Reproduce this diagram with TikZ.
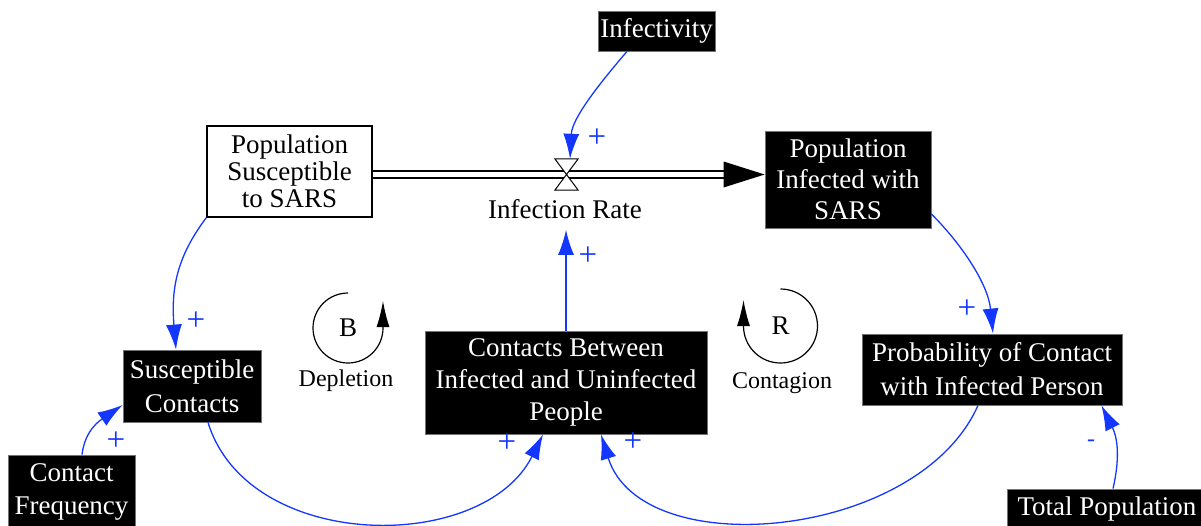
\documentclass[tikz,border=0pt]{standalone}
\usepackage{fontspec}
\setmainfont{Liberation Serif}
\usetikzlibrary{arrows.meta,calc}
\definecolor{linkblue}{RGB}{20,55,255}

\begin{document}
\begin{tikzpicture}[x=1pt,y=-1pt,
  darkbox/.style={fill=black, draw=black!55, line width=0.8pt, text=white,
    font=\fontsize{27}{32}\selectfont, align=center, inner sep=0pt},
  lightbox/.style={fill=white, draw=black, line width=1.6pt,
    font=\fontsize{27}{27}\selectfont, align=center, inner sep=0pt},
  link/.style={draw=linkblue, line width=1.3pt, -{Latex[length=25pt,width=16pt]}},
  polarity/.style={text=linkblue, font=\fontsize{33}{33}\selectfont, inner sep=0pt},
  loopmark/.style={draw=black, line width=1.2pt, -{Latex[length=26pt,width=13pt]}},
  looptext/.style={font=\fontsize{24}{24}\selectfont, inner sep=0pt},
  loopletter/.style={font=\fontsize{27}{27}\selectfont, inner sep=0pt},
  pipe/.style={draw=black, double=white, double distance=5.5pt, line width=1.5pt}
]
\useasboundingbox (0,0) rectangle (1201,525);
\clip (0,0) rectangle (1201,525);

% stocks, rate and auxiliaries
\node[lightbox, minimum width=165, minimum height=91] (pss) at (289.5,171.5)
  {Population\\Susceptible\\to SARS};
\node[darkbox, minimum width=166, minimum height=97, font=\fontsize{27}{31}\selectfont] (pis) at (848,179.5)
  {Population\\Infected with\\SARS};
\node[darkbox, minimum width=117, minimum height=40] (inf) at (656.5,31) {Infectivity};
\node[darkbox, minimum width=138, minimum height=72, font=\fontsize{27}{34}\selectfont] (sc) at (192,386)
  {Susceptible\\Contacts};
\node[darkbox, minimum width=127, minimum height=74, font=\fontsize{27}{33}\selectfont] (cf) at (71.5,492)
  {Contact\\Frequency};
\node[darkbox, minimum width=282, minimum height=103] (cbi) at (566,382.5)
  {Contacts Between\\Infected and Uninfected\\People};
\node[darkbox, minimum width=260, minimum height=71, font=\fontsize{27}{34}\selectfont] (pc) at (992,369.5)
  {Probability of Contact\\with Infected Person};
\node[darkbox, minimum width=200, minimum height=40] (tp) at (1107,509) {Total Population};

% flow pipe with valve
\node[minimum width=23, minimum height=31, inner sep=0pt] (valve) at (566.5,174.5) {};
\node[font=\fontsize{27}{27}\selectfont, inner sep=0pt] (ratelabel) at (565,209) {Infection Rate};
\draw[pipe] (pss.east |- valve.center) -- ($(pis.west |- valve.center)+(-38,0)$);
\fill[black] (pis.west |- valve.center) -- ++(-41,-13) -- ++(0,26) -- cycle;
\draw[fill=white, line width=1pt] (valve.north west) -- (valve.north east)
  -- (valve.south west) -- (valve.south east) -- cycle;

% causal links
\draw[link] ($(inf.south)+(-29.5,0)$) .. controls +(-30,35) and +(2,-40) .. ($(valve.north)+(3.5,0)$);
\draw[link] (cbi.north) -- ($(cbi.north |- ratelabel.south)+(0,11)$);
\draw[link] (pss.south west) .. controls +(-30,40) and +(-5,-60) .. ($(sc.north)+(-16,0)$);
\draw[link] ($(cf.north)+(10.5,0)$) .. controls +(3,-25) and +(-22,15) .. ($(sc.west)+(0,19)$);
\draw[link] ($(sc.south)+(16,0)$) .. controls +(40,130) and +(-60,120) .. ($(cbi.south)+(-23,0)$);
\draw[link] ($(pc.south)+(-14,0)$) .. controls +(-60,135) and +(40,130) .. ($(cbi.south)+(35,0)$);
\draw[link] ($(pis.east)+(0,34.5)$) .. controls +(30,30) and +(-5,-50) .. ($(pc.north)+(1,0)$);
\draw[link] ($(tp.north)+(6,0)$) .. controls +(8,-35) and +(15,30) .. ($(pc.south east)+(-21,0)$);

% link polarities
\node[polarity] (s1) at (597,138) {+};
\node[polarity] (s2) at (588,256) {+};
\node[polarity] (s3) at (196,321) {+};
\node[polarity] (s4) at (116,441) {+};
\node[polarity] (s5) at (507,443) {+};
\node[polarity] (s6) at (633,442) {+};
\node[polarity] (s7) at (967,309) {+};
\node[polarity, font=\fontsize{24}{24}\selectfont] (s8) at (1091,443) {-};

% loop identifiers
\node[loopletter] (bmark) at (348,328) {B};
\node[looptext] (bname) at (346,381) {Depletion};
\draw[loopmark] (bmark.center) ++(0,-35) arc[start angle=90, end angle=360, radius=35pt] -- ++(0,-27);
\node[loopletter] (rmark) at (780.5,326) {R};
\node[looptext] (rname) at (782,383) {Contagion};
\draw[loopmark] (rmark.center) ++(0,-37) arc[start angle=90, end angle=-180, radius=37pt] -- ++(0,-26);
\end{tikzpicture}
\end{document}
